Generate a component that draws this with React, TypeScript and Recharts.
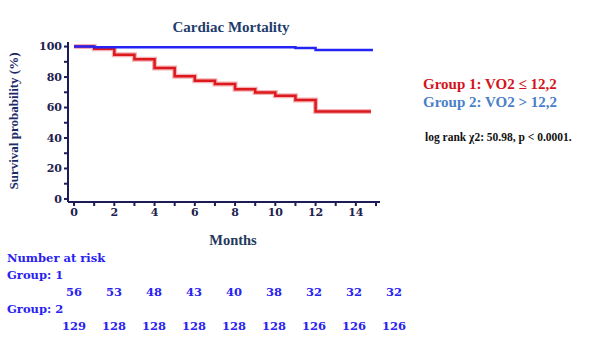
import React from "react";
import { LineChart, Line, XAxis, YAxis } from "recharts";

// --- Data ---

const GROUP1_CURVE = [
  { month: 0, survival: 100 },
  { month: 1, survival: 98.5 },
  { month: 2, survival: 94.7 },
  { month: 3, survival: 91.6 },
  { month: 4, survival: 85.9 },
  { month: 5, survival: 80.6 },
  { month: 6, survival: 77.5 },
  { month: 7, survival: 75.5 },
  { month: 8, survival: 72.0 },
  { month: 9, survival: 69.8 },
  { month: 10, survival: 67.8 },
  { month: 11, survival: 64.9 },
  { month: 12, survival: 57.4 },
  { month: 14.75, survival: 57.4 },
];

const GROUP2_CURVE = [
  { month: 0, survival: 100 },
  { month: 1, survival: 99.6 },
  { month: 11, survival: 99.1 },
  { month: 12, survival: 97.8 },
  { month: 14.85, survival: 97.8 },
];

const X_TICKS = [0, 1, 2, 3, 4, 5, 6, 7, 8, 9, 10, 11, 12, 13, 14, 15];
const Y_TICKS = [0, 10, 20, 30, 40, 50, 60, 70, 80, 90, 100];

const RISK_GROUP1 = [56, 53, 48, 43, 40, 38, 32, 32, 32];
const RISK_GROUP2 = [129, 128, 128, 128, 128, 128, 126, 126, 126];

const AXIS_COLOR = "#1c1c58";
const RISK_COLOR = "#2a22f0";

export default function App() {
  const tickStyle = {
    fill: "#22224e",
    fontFamily: "DejaVu Serif",
    fontWeight: 700,
    fontSize: 11,
  };

  const riskText: React.CSSProperties = {
    position: "absolute",
    fontFamily: "DejaVu Serif",
    fontWeight: 700,
    fontSize: 11.5,
    color: RISK_COLOR,
    whiteSpace: "nowrap",
  };

  return (
    <div style={{ position: "absolute", left: 0, top: 0, width: 600, height: 359, background: "#fff" }}>
      <LineChart width={600} height={359} margin={{ top: 42, right: 220, bottom: 127, left: 28 }}>
        <XAxis
          type="number"
          dataKey="month"
          domain={[-0.3, 15.2]}
          ticks={X_TICKS}
          interval={0}
          tickFormatter={(v: number) => (v % 2 === 0 && v <= 14 ? String(v) : "")}
          height={30}
          stroke={AXIS_COLOR}
          strokeWidth={2}
          tickSize={4}
          tick={tickStyle}
          allowDataOverflow
        />
        <YAxis
          type="number"
          dataKey="survival"
          domain={[-2, 103]}
          ticks={Y_TICKS}
          interval={0}
          tickFormatter={(v: number) => (v % 20 === 0 ? String(v) : "")}
          width={40}
          stroke={AXIS_COLOR}
          strokeWidth={2}
          tickSize={4}
          tick={tickStyle}
          allowDataOverflow
        />
        <Line
          data={GROUP1_CURVE}
          dataKey="survival"
          type="stepAfter"
          stroke="#f4b0b4"
          strokeWidth={5}
          dot={false}
          isAnimationActive={false}
        />
        <Line
          data={GROUP1_CURVE}
          dataKey="survival"
          type="stepAfter"
          stroke="#dc1a1e"
          strokeWidth={2.5}
          dot={false}
          isAnimationActive={false}
        />
        <Line
          data={GROUP2_CURVE}
          dataKey="survival"
          type="stepAfter"
          stroke="#2424f4"
          strokeWidth={2.5}
          dot={false}
          isAnimationActive={false}
        />
      </LineChart>

      {/* Title */}
      <div style={{ position: "absolute", left: 131, width: 200, top: 19, textAlign: "center", fontFamily: "Liberation Serif", fontWeight: 700, fontSize: 15, color: "#1f3c6c" }}>
        Cardiac Mortality
      </div>

      {/* Y axis title */}
      <div style={{ position: "absolute", left: 14, top: 121, transform: "translate(-50%, -50%) rotate(-90deg)", whiteSpace: "nowrap", fontFamily: "Liberation Serif", fontWeight: 700, fontSize: 13, color: "#1c2a68" }}>
        Survival probability (%)
      </div>

      {/* X axis title */}
      <div style={{ position: "absolute", left: 183, width: 100, top: 232, textAlign: "center", fontFamily: "Liberation Serif", fontWeight: 700, fontSize: 14.5, color: "#1f3a5c" }}>
        Months
      </div>

      {/* Legend */}
      <div style={{ position: "absolute", left: 423, top: 76, fontFamily: "Liberation Serif", fontWeight: 700, fontSize: 15, color: "#d4141c", whiteSpace: "nowrap" }}>
        Group 1: VO2 ≤ 12,2
      </div>
      <div style={{ position: "absolute", left: 423, top: 94, fontFamily: "Liberation Serif", fontWeight: 700, fontSize: 15, color: "#4a80c8", whiteSpace: "nowrap" }}>
        Group 2: VO2 &gt; 12,2
      </div>
      <div style={{ position: "absolute", left: 425, top: 131, fontFamily: "Liberation Serif", fontWeight: 700, fontSize: 11.5, color: "#111", whiteSpace: "nowrap" }}>
        log rank χ2: 50.98, p &lt; 0.0001.
      </div>

      {/* Number at risk table */}
      <div style={{ ...riskText, left: 7, top: 251 }}>Number at risk</div>
      <div style={{ ...riskText, left: 7, top: 268 }}>Group: 1</div>
      {RISK_GROUP1.map((n, i) => (
        <div key={"g1" + i} style={{ ...riskText, left: 54 + i * 40, width: 40, top: 285, textAlign: "center" }}>
          {n}
        </div>
      ))}
      <div style={{ ...riskText, left: 7, top: 302 }}>Group: 2</div>
      {RISK_GROUP2.map((n, i) => (
        <div key={"g2" + i} style={{ ...riskText, left: 54 + i * 40, width: 40, top: 319, textAlign: "center" }}>
          {n}
        </div>
      ))}
    </div>
  );
}
